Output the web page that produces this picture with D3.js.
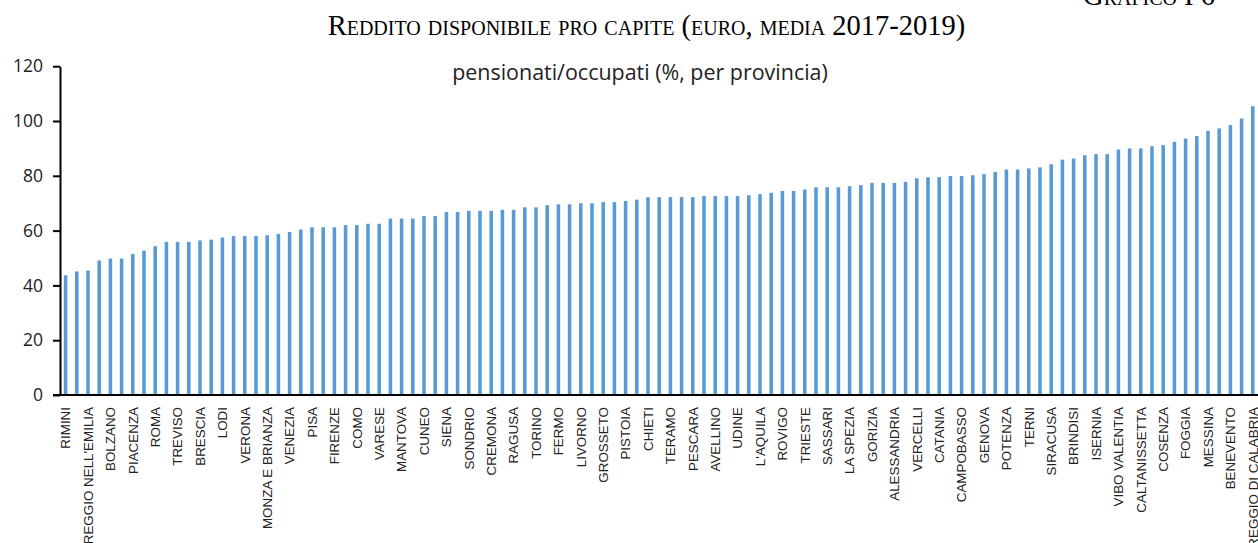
<!DOCTYPE html>
<html>
<head>
<meta charset="utf-8">
<script src="https://cdn.jsdelivr.net/npm/d3@7"></script>
<style>
  html, body { margin: 0; padding: 0; background: #fff; }
  svg { display: block; }
</style>
</head>
<body>
<svg id="chart" width="1258" height="543"></svg>
<script>
// ---- data ----
const chartTitle = "Reddito disponibile pro capite (euro, media 2017-2019)";
const chartSubtitle = "pensionati/occupati (%, per provincia)";
const figureLabel = "Grafico I 6";

// tick labels shown under every other bar (even positions)
const tickLabels = [
  "RIMINI", "REGGIO NELL'EMILIA", "BOLZANO", "PIACENZA", "ROMA", "TREVISO",
  "BRESCIA", "LODI", "VERONA", "MONZA E BRIANZA", "VENEZIA", "PISA",
  "FIRENZE", "COMO", "VARESE", "MANTOVA", "CUNEO", "SIENA", "SONDRIO",
  "CREMONA", "RAGUSA", "TORINO", "FERMO", "LIVORNO", "GROSSETO", "PISTOIA",
  "CHIETI", "TERAMO", "PESCARA", "AVELLINO", "UDINE", "L'AQUILA", "ROVIGO",
  "TRIESTE", "SASSARI", "LA SPEZIA", "GORIZIA", "ALESSANDRIA", "VERCELLI",
  "CATANIA", "CAMPOBASSO", "GENOVA", "POTENZA", "TERNI", "SIRACUSA",
  "BRINDISI", "ISERNIA", "VIBO VALENTIA", "CALTANISSETTA", "COSENZA",
  "FOGGIA", "MESSINA", "BENEVENTO", "REGGIO DI CALABRIA"
];

// pensionati/occupati (%) for all 107 provinces, in order
const values = [
  43.7, 45.1, 45.4, 49.1, 49.8, 49.8, 51.5, 52.7, 54.3, 55.9,
  55.9, 55.9, 56.4, 56.7, 57.5, 58.0, 58.0, 58.0, 58.3, 58.8,
  59.5, 60.4, 61.2, 61.2, 61.2, 62.0, 62.0, 62.5, 62.5, 64.4,
  64.4, 64.4, 65.3, 65.3, 66.8, 66.8, 67.2, 67.2, 67.2, 67.6,
  67.6, 68.5, 68.5, 69.3, 69.6, 69.6, 70.0, 70.0, 70.4, 70.4,
  70.8, 71.3, 72.2, 72.2, 72.2, 72.2, 72.2, 72.6, 72.6, 72.6,
  72.6, 72.9, 73.3, 73.8, 74.5, 74.5, 75.0, 75.8, 75.8, 75.8,
  76.2, 76.6, 77.4, 77.4, 77.4, 77.8, 79.1, 79.5, 79.5, 79.9,
  79.9, 80.2, 80.6, 81.4, 82.3, 82.3, 82.7, 83.1, 84.2, 85.9,
  86.3, 87.5, 87.9, 87.9, 89.6, 90.0, 90.0, 90.8, 91.2, 92.4,
  93.6, 94.5, 96.4, 97.3, 98.5, 100.9, 105.4
];

const yTicks = [0, 20, 40, 60, 80, 100, 120];

// ---- layout ----
const svg = d3.select("#chart");
const plotLeft = 60, plotRight = 1258.4, plotTop = 66.2, plotBottom = 395;

const x = d3.scaleBand()
  .domain(d3.range(values.length))
  .range([plotLeft, plotRight])
  .paddingInner(0.68)
  .paddingOuter(0.34);

const y = d3.scaleLinear().domain([0, 120]).range([plotBottom, plotTop]);

// bars
svg.append("g")
  .selectAll("rect")
  .data(values)
  .join("rect")
  .attr("x", (d, i) => x(i))
  .attr("width", x.bandwidth())
  .attr("y", d => y(d))
  .attr("height", d => y(0) - y(d))
  .attr("fill", "#5B9BD5");

// y axis
const yAxis = svg.append("g")
  .attr("transform", `translate(${plotLeft},0)`)
  .call(d3.axisLeft(y).tickValues(yTicks).tickSize(7).tickPadding(10).tickSizeOuter(0));
yAxis.select(".domain").attr("stroke", "#000").attr("stroke-width", 2);
yAxis.selectAll(".tick line").attr("stroke", "#000").attr("stroke-width", 2);
yAxis.selectAll(".tick text")
  .attr("fill", "#222")
  .style("font-family", "'Open Sans', sans-serif")
  .style("font-size", "17.5px");

// x axis
const labelIdx = d3.range(0, values.length, 2);
const xAxis = svg.append("g")
  .attr("transform", `translate(0,${plotBottom})`)
  .call(d3.axisBottom(x).tickValues(labelIdx).tickSize(0).tickSizeOuter(0)
    .tickFormat(i => tickLabels[i / 2]));
xAxis.select(".domain").attr("stroke", "#000").attr("stroke-width", 2)
  .attr("d", `M${plotLeft - 7},0H${1258}`);
xAxis.selectAll(".tick text")
  .attr("transform", "rotate(-90)")
  .attr("text-anchor", "end")
  .attr("x", -12)
  .attr("y", 0)
  .attr("dy", "0.35em")
  .attr("fill", "#222")
  .style("font-family", "'Liberation Sans', Arial, sans-serif")
  .style("font-size", "13.4px");

// helper to fit text to a target width
function fit(sel, targetW) {
  const w = sel.node().getComputedTextLength();
  const fs = parseFloat(sel.style("font-size"));
  sel.style("font-size", (fs * targetW / w) + "px");
}

// title
const t = svg.append("text")
  .attr("x", 646.5).attr("y", 35)
  .attr("text-anchor", "middle")
  .attr("fill", "#000")
  .style("font-family", "'Liberation Serif', 'Times New Roman', serif")
  .style("font-variant", "small-caps")
  .style("font-size", "20px")
  .text(chartTitle);
fit(t, 637);

// figure label (top right, partially clipped)
svg.append("text")
  .attr("x", 1215).attr("y", 5)
  .attr("text-anchor", "end")
  .attr("fill", "#000")
  .style("font-family", "'Liberation Serif', 'Times New Roman', serif")
  .style("font-variant", "small-caps")
  .style("font-size", t.style("font-size"))
  .text(figureLabel);

// subtitle
const s = svg.append("text")
  .attr("x", 640).attr("y", 80)
  .attr("text-anchor", "middle")
  .attr("fill", "#222")
  .style("font-family", "'Open Sans', sans-serif")
  .style("font-size", "19px")
  .text(chartSubtitle);
fit(s, 376);
</script>
</body>
</html>
